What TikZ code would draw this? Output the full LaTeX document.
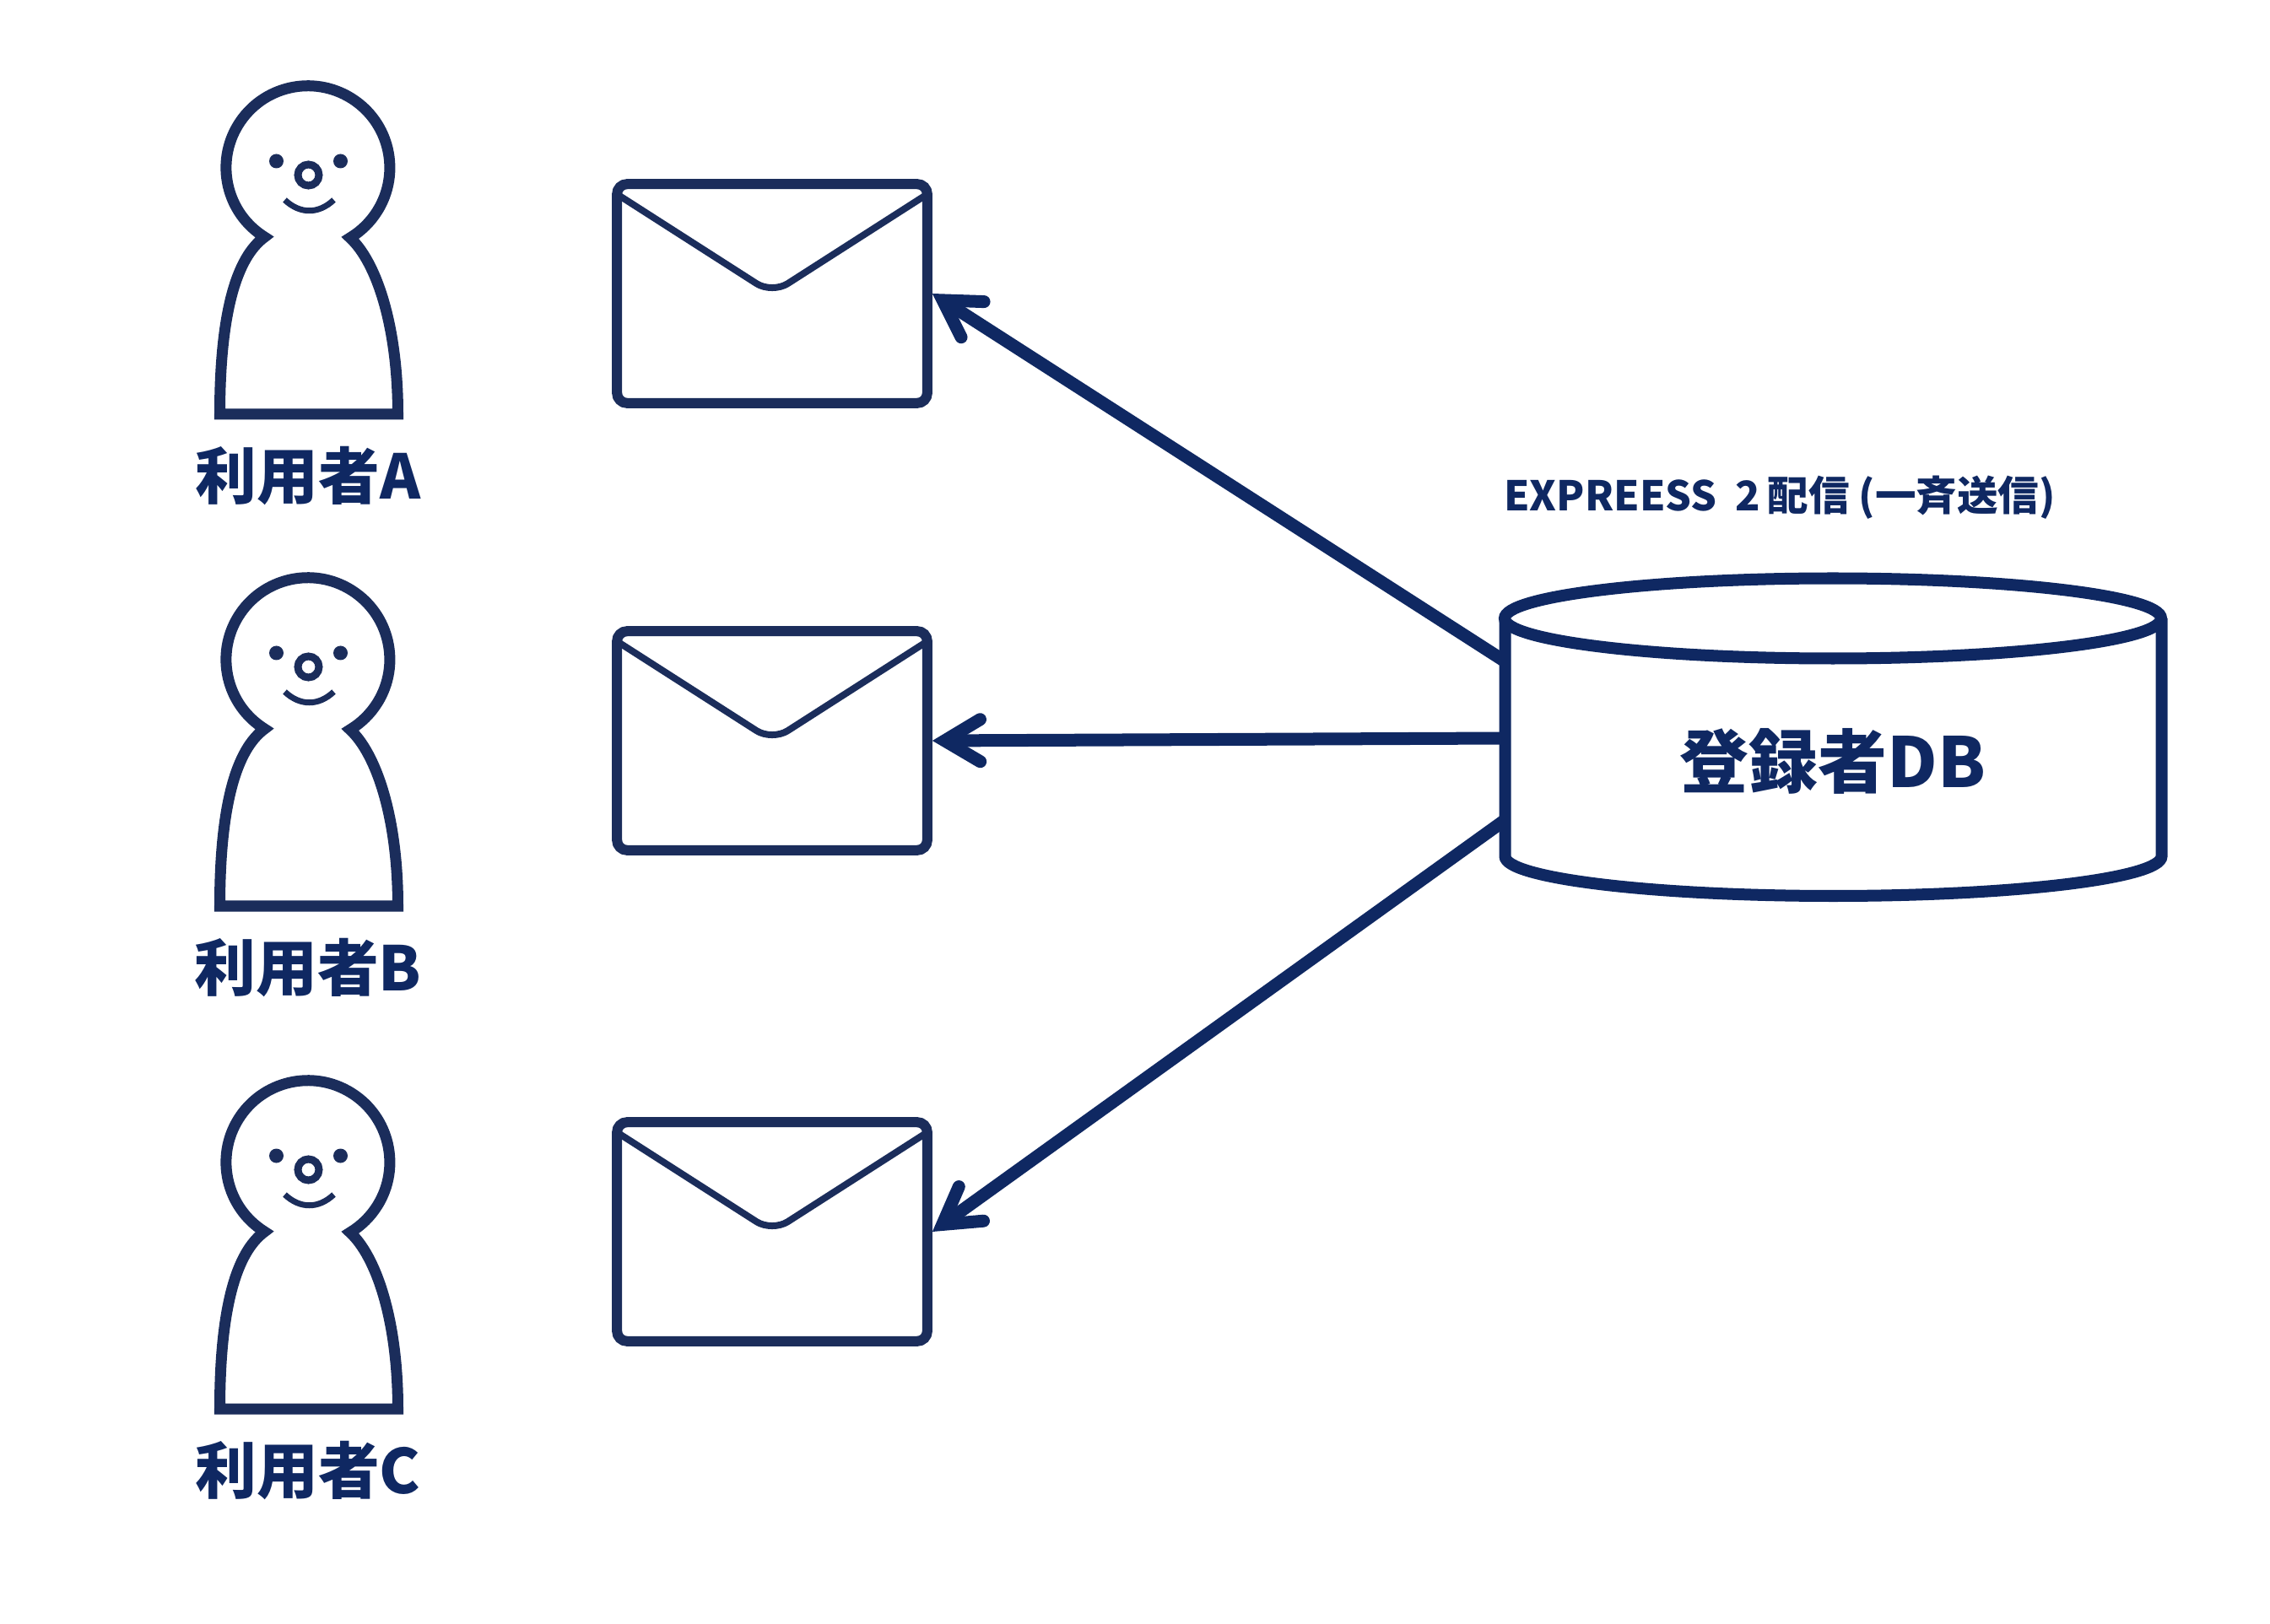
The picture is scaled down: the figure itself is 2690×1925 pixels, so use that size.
\documentclass[tikz,border=0pt]{standalone}
\usepackage{fontspec}
\usepackage{xcolor}
\setmainfont{Noto Sans CJK JP}
\usetikzlibrary{arrows.meta}
\definecolor{tinta}{HTML}{0F2862}
\definecolor{figura}{HTML}{1B2D5B}

\begin{document}
\begin{tikzpicture}[x=0.01cm,y=-0.01cm,
  etiqueta/.style={text=tinta,font=\bfseries\fontsize{20.7pt}{24pt}\selectfont,inner sep=0pt},
  sobre/.style={draw=figura,line width=0.12cm,rounded corners=0.12cm,minimum width=3.675cm,minimum height=2.595cm,inner sep=0pt},
  solapa/.style={draw=figura,line width=0.08cm,rounded corners=0.22cm},
  flecha/.style={-{Straight Barb[length=0.42cm,width=0.5cm,line cap=round,line join=miter]},line width=0.15cm,tinta},
  cilindro/.style={draw=tinta,line width=0.14cm},
  persona/.pic={
    \draw[figura,line width=0.13cm,line join=miter] (260,491) .. controls (260,370) and (280,305) .. (313,281)
      arc[start angle=122,end angle=419,radius=97]
      .. controls (445,310) and (471,385) .. (471,491) -- cycle;
    \fill[figura] (327,191) circle[radius=8.5];
    \fill[figura] (403,191) circle[radius=8.5];
    \draw[figura,line width=0.09cm] (365,207.5) circle[radius=12.5];
    \draw[figura,line width=0.07cm] (337,237) .. controls (355,254) and (377,254) .. (395,237);
  }]
\useasboundingbox (0,0) rectangle (2690,1925);
% usuarios
\pic at (0.5,0) {persona};
\pic at (0.5,583) {persona};
\pic at (0.5,1179) {persona};
\node[etiqueta] (usrA) at (365,564) {利用者A};
\node[etiqueta] (usrB) at (365,1147) {利用者B};
\node[etiqueta] (usrC) at (365,1743) {利用者C};
% sobres
\node[sobre] (mailA) at (915,348) {};
\node[sobre] (mailB) at (915,878) {};
\node[sobre] (mailC) at (915,1460) {};
\draw[solapa] (734,232) -- (915,348) -- (1096,232);
\draw[solapa] (734,762) -- (915,878) -- (1096,762);
\draw[solapa] (734,1344) -- (915,1460) -- (1096,1344);
% base de datos
\coordinate (salA) at (1783.5,784);
\coordinate (salB) at (1783.5,875);
\coordinate (salC) at (1783.5,972);
\draw[flecha] (salA) -- (mailA.east);
\draw[flecha] (salB) -- (mailB.east);
\draw[flecha] (salC) -- (mailC.east);
\draw[cilindro,fill=white] (1783.5,733) -- (1783.5,1015) arc[start angle=180,end angle=0,x radius=389,y radius=47] -- (2561.5,733);
\draw[cilindro,fill=white] (2172,733) ellipse[x radius=389,y radius=47.5];
\node[text=tinta,font=\bfseries\fontsize{23.3pt}{28pt}\selectfont,inner sep=0pt] (db) at (2172,902) {登録者DB};
\node[text=tinta,font=\bfseries\fontsize{13.8pt}{16pt}\selectfont,inner sep=0pt] (titulo) at (2109,590) {EXPREESS\ \ 2\,配信 (一斉送信)};
\end{tikzpicture}
\end{document}
